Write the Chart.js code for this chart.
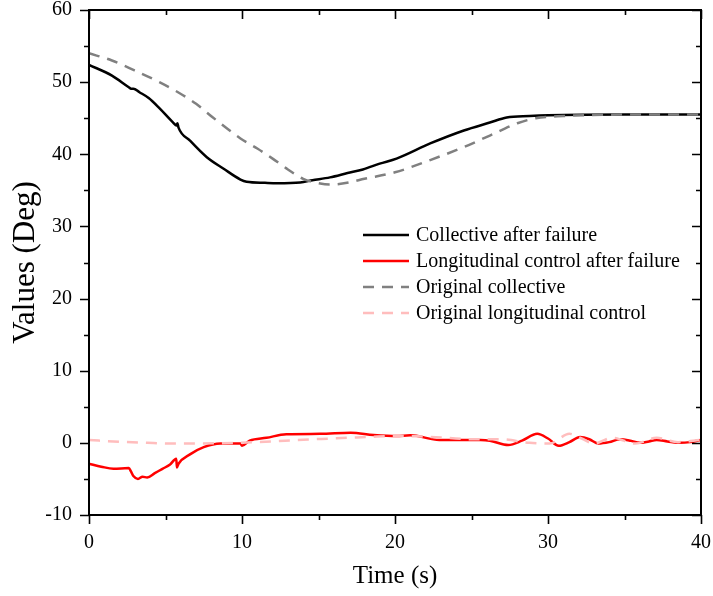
<!DOCTYPE html>
<html>
<head>
<meta charset="utf-8">
<script src="https://cdn.jsdelivr.net/npm/chart.js@4/dist/chart.umd.min.js"></script>
<style>
    html, body { margin: 0; padding: 0; background: #fff; }
    #wrap { width: 713px; height: 596px; }
</style>
</head>
<body>
<div id="wrap"><canvas id="failureChart" width="713" height="596"></canvas></div>
<script>
// --------------------
// Data
// --------------------
const collectiveTime = [0, 1.5, 2.6, 2.75, 2.9, 3.3, 3.9, 4.6, 5.5, 5.72, 5.78, 5.85, 6.6, 7.7, 8.8, 9.9, 10.3, 11.5, 12.3, 13.8, 14.6, 15.75, 16.9, 17.9, 19, 20.1, 22.3, 24.5, 26.2, 27.3, 28.8, 30, 35, 40];
const collectiveValues = [52.4, 50.9, 49.3, 49.1, 49.1, 48.6, 47.8, 46.4, 44.4, 44.0, 44.3, 43.7, 41.9, 39.6, 38.0, 36.5, 36.2, 36.05, 36.0, 36.1, 36.4, 36.8, 37.4, 37.9, 38.7, 39.4, 41.5, 43.3, 44.4, 45.1, 45.3, 45.4, 45.5, 45.5];

const longitudinalTime = [0, 0.8, 1.6, 2.6, 2.75, 2.9, 3.2, 3.5, 3.8, 4.3, 4.8, 5.3, 5.7, 5.75, 5.85, 6.6, 7.5, 8.6, 9.9, 10.0, 10.5, 11.6, 12.9, 15.1, 17.1, 18.6, 20.1, 21, 22.9, 25.6, 26.2, 27.4, 28.3, 29.3, 30.0, 30.7, 31.4, 32.1, 32.7, 33.3, 34.0, 34.7, 35.4, 36.0, 36.6, 37.1, 37.8, 38.6, 39.3, 40];
const longitudinalValues = [-2.9, -3.3, -3.6, -3.5, -4.0, -4.6, -5.0, -4.7, -4.8, -4.2, -3.6, -3.0, -2.2, -3.4, -2.9, -1.6, -0.6, -0.1, -0.1, -0.4, 0.3, 0.7, 1.2, 1.25, 1.4, 1.1, 0.95, 1.05, 0.4, 0.4, 0.3, -0.3, 0.3, 1.25, 0.6, -0.4, 0.1, 0.8, 0.5, -0.1, 0.1, 0.5, 0.3, 0.0, 0.2, 0.4, 0.2, 0.0, 0.1, 0.4];

const origCollectiveTime = [0, 1.5, 2.9, 4.6, 5.9, 7, 8.1, 9.9, 11, 12, 13, 14, 15, 15.75, 17, 18, 20, 22.3, 24.5, 26.2, 28, 29.2, 31, 35, 40];
const origCollectiveValues = [54.0, 53.0, 51.7, 50.0, 48.5, 47.0, 45.1, 42.2, 40.8, 39.4, 37.9, 36.6, 36.0, 35.8, 36.1, 36.6, 37.5, 39.2, 41.0, 42.6, 44.3, 45.0, 45.3, 45.5, 45.5];

const origLongitudinalTime = [0, 2, 3.8, 5.5, 7, 8.6, 10.3, 12, 13.6, 15.2, 16.9, 18.5, 20.1, 21.5, 23.4, 25, 26.9, 28.8, 30.1, 31.4, 32.2, 33, 34.2, 35.7, 37.1, 38.5, 40];
const origLongitudinalValues = [0.4, 0.15, 0.0, -0.1, -0.1, -0.05, 0.05, 0.2, 0.4, 0.55, 0.7, 0.85, 0.95, 0.9, 0.7, 0.5, 0.5, 0.0, -0.1, 1.25, 0.6, -0.1, 0.7, -0.1, 0.7, 0.1, 0.4];

const xTicks = [0, 10, 20, 30, 40];
const yTicks = [-10, 0, 10, 20, 30, 40, 50, 60];

const seriesLabels = [
    'Collective after failure',
    'Longitudinal control after failure',
    'Original collective',
    'Original longitudinal control'
];

// --------------------
// Helpers
// --------------------
const serif = "'Liberation Serif', 'Times New Roman', serif";

function toPoints(times, values) {
    return times.map((t, i) => ({ x: t, y: values[i] }));
}

// keep the plot box fixed, labels may overflow it
function noScalePadding(scale) {
    scale.paddingTop = 0;
    scale.paddingBottom = 0;
    scale.paddingLeft = 0;
    scale.paddingRight = 0;
}

// --------------------
// Frame, ticks and legend drawn like the original plot
// --------------------
const framePlugin = {
    id: 'frame',
    afterDraw(chart) {
        const { ctx, chartArea: a, scales } = chart;
        const xs = scales.x, ys = scales.y;
        ctx.save();
        ctx.strokeStyle = '#000';
        ctx.lineWidth = 2;
        ctx.strokeRect(a.left, a.top, a.right - a.left, a.bottom - a.top);

        ctx.lineWidth = 1.6;
        ctx.beginPath();
        for (let t = 0; t <= 40; t += 5) {
            const px = Math.round(xs.getPixelForValue(t)) + 0.5;
            const major = t % 10 === 0;
            ctx.moveTo(px, a.bottom); ctx.lineTo(px, a.bottom + (major ? 9 : 5));
            ctx.moveTo(px, a.top); ctx.lineTo(px, a.top + (major ? 9 : 5));
        }
        for (let v = -10; v <= 60; v += 5) {
            const py = Math.round(ys.getPixelForValue(v)) + 0.5;
            const major = v % 10 === 0;
            ctx.moveTo(a.left, py); ctx.lineTo(a.left - (major ? 9 : 5), py);
            ctx.moveTo(a.right, py); ctx.lineTo(a.right - (major ? 9 : 5), py);
        }
        ctx.stroke();

        // legend
        const rowY = [235, 261, 287, 313];
        ctx.font = '20px ' + serif;
        ctx.textBaseline = 'middle';
        ctx.textAlign = 'left';
        chart.data.datasets.forEach((ds, i) => {
            const y = rowY[i];
            ctx.strokeStyle = ds.borderColor;
            ctx.lineWidth = ds.borderWidth;
            ctx.setLineDash(ds.borderDash || []);
            ctx.beginPath();
            ctx.moveTo(363, y); ctx.lineTo(409, y);
            ctx.stroke();
            ctx.setLineDash([]);
            ctx.fillStyle = '#000';
            ctx.fillText(ds.label, 416, y + 1);
        });
        ctx.restore();
    }
};

// --------------------
// Chart instance
// --------------------
const ctx = document.getElementById('failureChart').getContext('2d');

new Chart(ctx, {
    type: 'line',
    data: {
        datasets: [
            {
                label: seriesLabels[0],
                data: toPoints(collectiveTime, collectiveValues),
                borderColor: '#000000',
                borderWidth: 2.5,
                order: 3
            },
            {
                label: seriesLabels[1],
                data: toPoints(longitudinalTime, longitudinalValues),
                borderColor: '#ff0000',
                borderWidth: 2.5,
                order: 2
            },
            {
                label: seriesLabels[2],
                data: toPoints(origCollectiveTime, origCollectiveValues),
                borderColor: '#808080',
                borderWidth: 2.5,
                borderDash: [11, 8],
                order: 1
            },
            {
                label: seriesLabels[3],
                data: toPoints(origLongitudinalTime, origLongitudinalValues),
                borderColor: '#ffbdbd',
                borderWidth: 2.5,
                borderDash: [11, 8],
                order: 0
            }
        ]
    },
    options: {
        responsive: false,
        animation: false,
        layout: { padding: { top: 10, right: 12, left: 0, bottom: 0 } },
        elements: {
            point: { radius: 0 },
            line: { cubicInterpolationMode: 'monotone', fill: false }
        },
        plugins: {
            legend: { display: false },
            tooltip: { enabled: false }
        },
        scales: {
            x: {
                type: 'linear',
                min: 0,
                max: 40,
                afterFit(scale) { scale.height = 81; noScalePadding(scale); },
                afterBuildTicks(scale) { scale.ticks = xTicks.map(v => ({ value: v })); },
                grid: { display: false, drawTicks: false },
                border: { display: false },
                ticks: {
                    padding: 16,
                    color: '#000',
                    maxRotation: 0,
                    font: { family: serif, size: 20 }
                },
                title: {
                    display: true,
                    text: 'Time (s)',
                    color: '#000',
                    font: { family: serif, size: 25 },
                    padding: { top: 0, bottom: 5 }
                }
            },
            y: {
                min: -10,
                max: 60,
                afterFit(scale) { scale.width = 89; noScalePadding(scale); },
                afterBuildTicks(scale) { scale.ticks = yTicks.map(v => ({ value: v })); },
                grid: { display: false, drawTicks: false },
                border: { display: false },
                ticks: {
                    padding: 17,
                    color: '#000',
                    font: { family: serif, size: 20 }
                },
                title: {
                    display: true,
                    text: 'Values (Deg)',
                    color: '#000',
                    font: { family: serif, size: 31 },
                    padding: { top: 7, bottom: 0 }
                }
            }
        }
    },
    plugins: [framePlugin]
});
</script>
</body>
</html>
